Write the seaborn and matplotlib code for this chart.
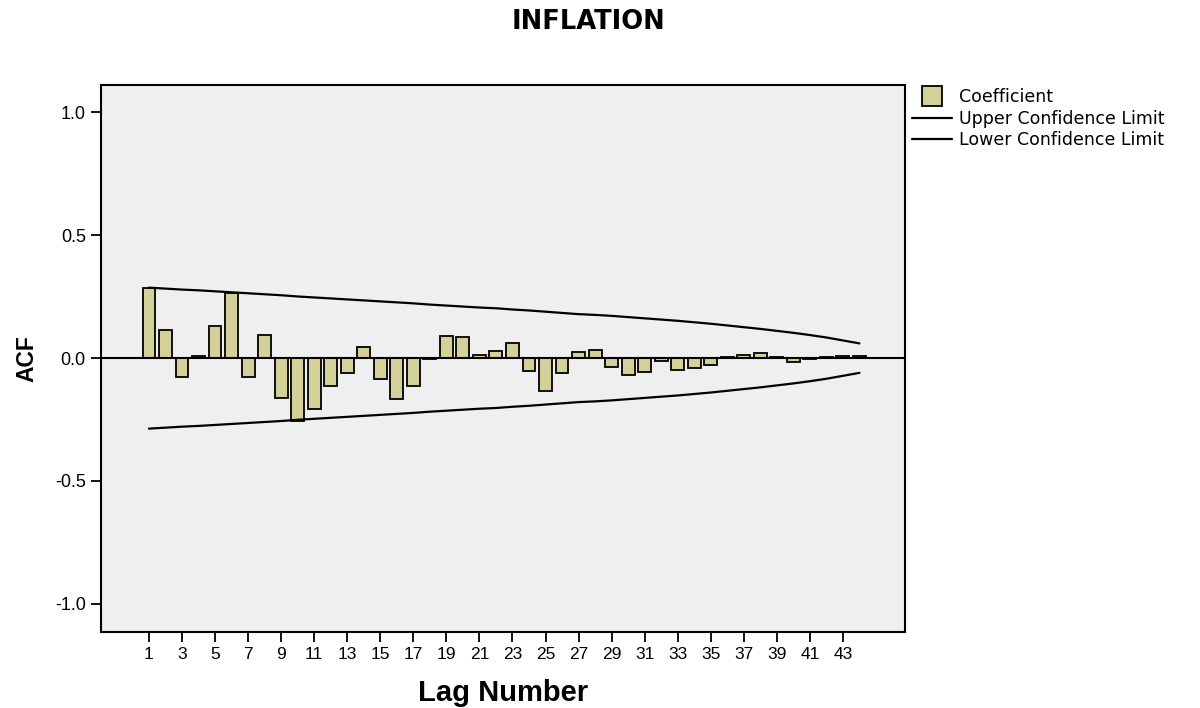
import matplotlib
matplotlib.use("Agg")
import matplotlib.pyplot as plt
import seaborn as sns
import pandas as pd
from matplotlib.lines import Line2D

# Autocorrelation coefficients by lag
lags = list(range(1, 45))
acf = [0.285, 0.115, -0.075, 0.007, 0.132, 0.267, -0.076, 0.095, -0.163, -0.255,
       -0.208, -0.113, -0.061, 0.047, -0.083, -0.165, -0.113, -0.003, 0.092, 0.084,
       0.013, 0.028, 0.061, -0.053, -0.133, -0.060, 0.024, 0.035, -0.035, -0.068,
       -0.057, -0.011, -0.049, -0.039, -0.027, 0.003, 0.012, 0.022, 0.004, -0.014,
       -0.003, 0.005, 0.010, 0.007]

# Confidence limits by lag
upper = [0.287, 0.283, 0.279, 0.276, 0.272, 0.268, 0.264, 0.260, 0.256, 0.251,
         0.247, 0.243, 0.239, 0.235, 0.231, 0.227, 0.223, 0.218, 0.214, 0.210,
         0.206, 0.203, 0.198, 0.194, 0.189, 0.184, 0.179, 0.176, 0.172, 0.167,
         0.162, 0.157, 0.152, 0.146, 0.140, 0.133, 0.126, 0.119, 0.111, 0.103,
         0.094, 0.084, 0.072, 0.060]
lower = [-0.287, -0.283, -0.279, -0.276, -0.272, -0.268, -0.264, -0.260, -0.256, -0.251,
         -0.247, -0.243, -0.239, -0.235, -0.231, -0.227, -0.223, -0.218, -0.214, -0.210,
         -0.206, -0.203, -0.198, -0.194, -0.189, -0.184, -0.179, -0.176, -0.172, -0.167,
         -0.162, -0.157, -0.152, -0.146, -0.140, -0.133, -0.126, -0.119, -0.111, -0.103,
         -0.094, -0.084, -0.072, -0.060]

xtick_labels = [str(k) for k in range(1, 44, 2)]
ytick_values = [-1.0, -0.5, 0.0, 0.5, 1.0]

df = pd.DataFrame({"lag": lags, "acf": acf, "upper": upper, "lower": lower})

sns.set_theme(style="white")
plt.rcParams["font.family"] = ["Liberation Sans", "DejaVu Sans"]
plt.rcParams["text.color"] = "black"
plt.rcParams["axes.labelcolor"] = "black"
plt.rcParams["xtick.color"] = "black"
plt.rcParams["ytick.color"] = "black"

bar_color = "#D4D09A"
bg_color = "#EFEFEF"

fig = plt.figure(figsize=(12, 7.08), dpi=100)
ax = fig.add_axes([0.0842, 0.1073, 0.6700, 0.7727])
ax.set_facecolor(bg_color)

sns.barplot(data=df, x="lag", y="acf", native_scale=True, width=0.78,
            color=bar_color, edgecolor="black", linewidth=1.3, saturation=1,
            ax=ax, zorder=2)
sns.lineplot(data=df, x="lag", y="upper", color="black", linewidth=1.6, ax=ax, zorder=3)
sns.lineplot(data=df, x="lag", y="lower", color="black", linewidth=1.6, ax=ax, zorder=3)
ax.axhline(0, color="black", linewidth=1.5, zorder=4)

ax.set_xlim(-1.9, 46.76)
ax.set_ylim(-1.115, 1.112)
ax.set_xticks(range(1, 44, 2))
ax.set_xticklabels(xtick_labels, fontsize=12.5)
ax.set_yticks(ytick_values)
ax.set_yticklabels([f"{v:.1f}" for v in ytick_values], fontsize=13)
ax.tick_params(axis="both", direction="out", length=7, width=1.3, color="black",
               labelcolor="black", bottom=True, left=True, pad=4)

for s in ax.spines.values():
    s.set_color("black")
    s.set_linewidth(1.5)

ax.set_xlabel("Lag Number", fontsize=21, fontweight="bold", labelpad=12)
ax.set_ylabel("ACF", fontsize=16.5, fontweight="bold", labelpad=12)

fig.text(0.49, 0.969, "INFLATION", ha="center", va="center",
         fontsize=18.5, fontweight="bold", family="DejaVu Sans")

handles = [
    Line2D([0], [0], linestyle="none", marker="s", markersize=14,
           markerfacecolor=bar_color, markeredgecolor="black", markeredgewidth=1.3,
           label="Coefficient"),
    Line2D([0], [0], color="black", linewidth=1.6, label="Upper Confidence Limit"),
    Line2D([0], [0], color="black", linewidth=1.6, label="Lower Confidence Limit"),
]
fig.legend(handles=handles, loc="upper left", bbox_to_anchor=(0.760, 0.875),
           frameon=False, prop={"family": "DejaVu Sans", "size": 12.5},
           handlelength=2.3, handletextpad=0.4, labelspacing=0.2,
           borderaxespad=0, borderpad=0)

fig.savefig("out.png", dpi=100, facecolor="white")
